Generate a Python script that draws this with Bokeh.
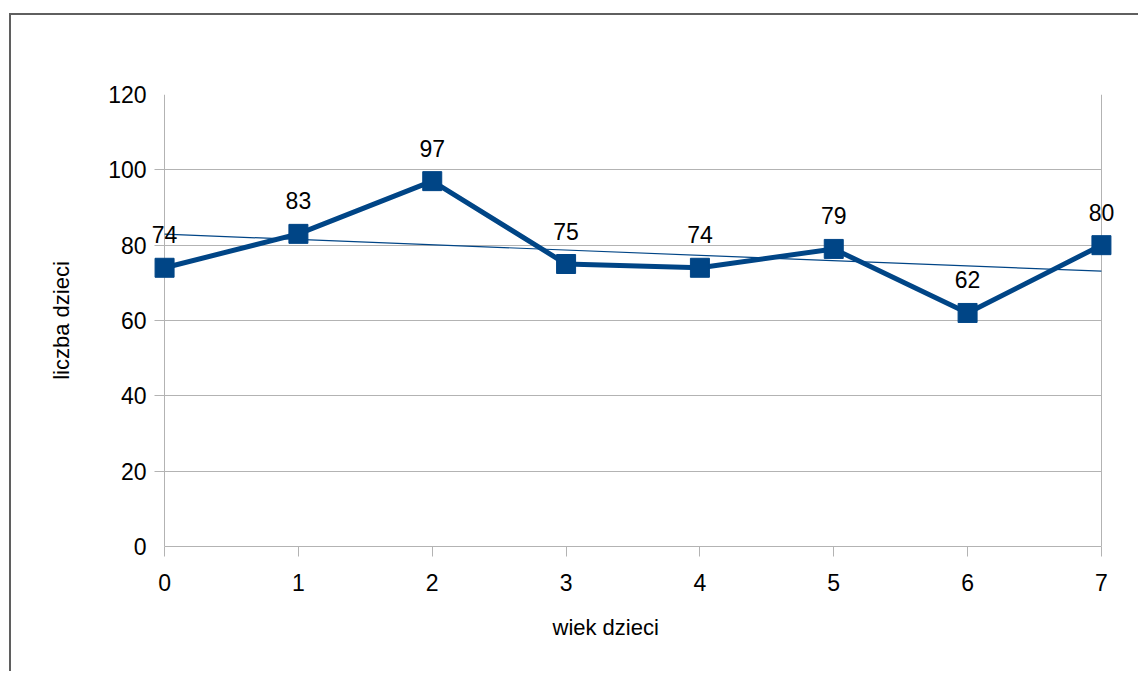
import numpy as np
from bokeh.plotting import figure
from bokeh.models import Range1d, FixedTicker, ColumnDataSource, Title
from bokeh.core.properties import value
from bokeh.embed import file_html
from bokeh.resources import INLINE

ages = [0, 1, 2, 3, 4, 5, 6, 7]
counts = [74, 83, 97, 75, 74, 79, 62, 80]
y_ticks = [0, 20, 40, 60, 80, 100, 120]
x_title = "wiek dzieci"
y_title = "liczba dzieci"

BLUE = "#004586"
GRID = "#b3b3b3"
FONT = "Liberation Sans"

x_lo, x_hi = min(ages), max(ages)
y_lo, y_hi = min(y_ticks), max(y_ticks)
pad = 0.15          # room so edge markers / labels are not clipped
tick_len = 0.075    # y tick length expressed in x units (~10px)

slope, intercept = np.polyfit(ages, counts, 1)
trend_x = [x_lo, x_hi]
trend_y = [intercept + slope * v for v in trend_x]

src = ColumnDataSource(dict(x=ages, y=counts, lbl=[str(c) for c in counts]))

p = figure(width=1129, height=658, output_backend="svg", toolbar_location=None,
           x_range=Range1d(x_lo - pad, x_hi + pad), y_range=Range1d(y_lo, y_hi),
           min_border_left=133, min_border_top=79, min_border_right=19,
           min_border_bottom=127)
p.styles = {"border-left": "2px solid #5f5f5f", "border-top": "2px solid #5f5f5f",
            "margin-top": "13px", "margin-left": "9px"}

p.outline_line_color = None
p.background_fill_color = "white"
p.border_fill_color = "white"

# vertical frame lines at both ends of the x axis
p.xgrid.ticker = FixedTicker(ticks=[x_lo, x_hi])
p.xgrid.grid_line_color = GRID
# horizontal grid lines, started a tick length left of the axis
p.ygrid.ticker = FixedTicker(ticks=y_ticks)
p.ygrid.grid_line_color = GRID
p.ygrid.grid_line_width = 1
if hasattr(p.ygrid[0], "cross_bounds"):
    p.ygrid.cross_bounds = (x_lo - tick_len, x_hi)

xa = p.xaxis[0]
xa.axis_line_color = GRID
xa.major_tick_line_color = GRID
xa.minor_tick_line_color = None
xa.major_tick_in = 0
xa.major_tick_out = 10
xa.ticker = FixedTicker(ticks=ages)
xa.bounds = (x_lo, x_hi)
xa.major_label_standoff = 17

ya = p.yaxis[0]
ya.axis_line_color = None
ya.major_tick_line_color = None
ya.minor_tick_line_color = None
ya.ticker = FixedTicker(ticks=y_ticks)
ya.major_label_standoff = -8
ya.axis_label = y_title
ya.axis_label_standoff = 31

for ax in (xa, ya):
    ax.major_label_text_font = FONT
    ax.major_label_text_font_size = "23px"
    ax.major_label_text_color = "black"
    ax.axis_label_text_font = FONT
    ax.axis_label_text_font_size = "22px"
    ax.axis_label_text_font_style = "normal"
    ax.axis_label_text_color = "black"

p.add_layout(Title(text=x_title, align="left", offset=408, standoff=39,
                   text_font=FONT, text_font_size="22px",
                   text_font_style="normal", text_color="black"), "below")

p.line(trend_x, trend_y, line_color=BLUE, line_width=1.2)
p.line("x", "y", source=src, line_color=BLUE, line_width=5)
p.scatter("x", "y", source=src, marker="square", size=19,
          fill_color=BLUE, line_color=BLUE)
p.text("x", "y", text="lbl", source=src, text_align="center",
       text_baseline="middle", y_offset=-33, text_font=value(FONT),
       text_font_size="23px", text_color="black")

open("out.html", "w").write(file_html(p, INLINE))
